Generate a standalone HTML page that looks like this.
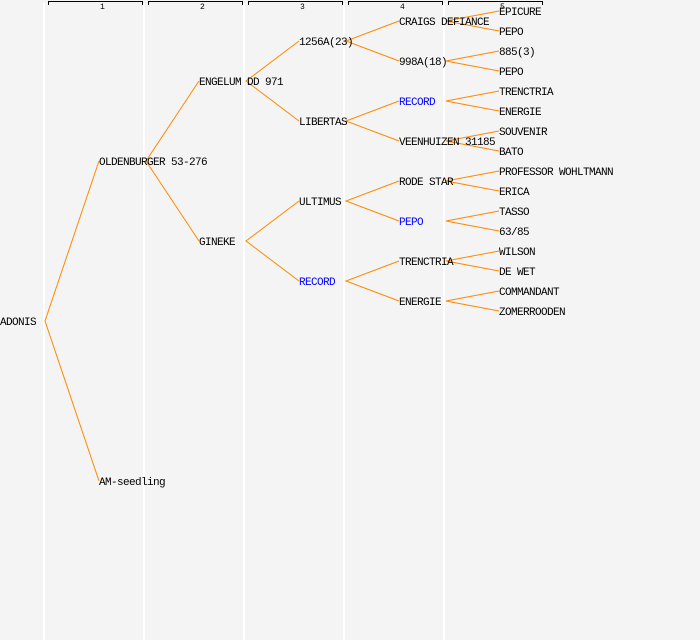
<!DOCTYPE html>
<html><head><meta charset="utf-8"><style>
html,body{margin:0;padding:0;background:#f4f4f4;}
svg{display:block;}
text{font-family:"Liberation Mono","DejaVu Sans Mono",monospace;font-size:11px;letter-spacing:-0.6px;fill:#000;}
.b{fill:#0000ff;}
text.n{font-size:8px;letter-spacing:0;}
</style></head><body>
<svg width="700" height="640" viewBox="0 0 700 640">
<rect width="700" height="640" fill="#f4f4f4"/>
<g stroke="#ffffff" stroke-width="2">
<line x1="44" y1="3" x2="44" y2="640"/><line x1="144" y1="3" x2="144" y2="640"/><line x1="244" y1="3" x2="244" y2="640"/><line x1="344" y1="3" x2="344" y2="640"/><line x1="444" y1="3" x2="444" y2="640"/>
</g>
<g stroke="#000" stroke-width="1" fill="none">
<path d="M48.5,5 V1.5 H142.5 V5"/><path d="M148.5,5 V1.5 H242.5 V5"/><path d="M248.5,5 V1.5 H342.5 V5"/><path d="M348.5,5 V1.5 H442.5 V5"/><path d="M448.5,5 V1.5 H542.5 V5"/>
</g>
<text class="n" x="100" y="9">1</text><text class="n" x="200" y="9">2</text><text class="n" x="300" y="9">3</text><text class="n" x="400" y="9">4</text><text class="n" x="500" y="9">5</text>
<g stroke="#ff8800" stroke-width="1" fill="none">
<path d="M99,161 L45,321 L99,481"/>
<path d="M199,81 L146,161 L199,241"/>
<path d="M299,41 L246,81 L299,121"/>
<path d="M299,201 L246,241 L299,281"/>
<path d="M399,21 L346,41 L399,61"/>
<path d="M399,101 L346,121 L399,141"/>
<path d="M399,181 L346,201 L399,221"/>
<path d="M399,261 L346,281 L399,301"/>
<path d="M499,11 L446,21 L499,31"/>
<path d="M499,51 L446,61 L499,71"/>
<path d="M499,91 L446,101 L499,111"/>
<path d="M499,131 L446,141 L499,151"/>
<path d="M499,171 L446,181 L499,191"/>
<path d="M499,211 L446,221 L499,231"/>
<path d="M499,251 L446,261 L499,271"/>
<path d="M499,291 L446,301 L499,311"/>
</g>
<text x="0" y="325">ADONIS</text>
<text x="99" y="165">OLDENBURGER 53-276</text>
<text x="99" y="485">AM-seedling</text>
<text x="199" y="85">ENGELUM DD 971</text>
<text x="199" y="245">GINEKE</text>
<text x="299" y="45">1256A(23)</text>
<text x="299" y="125">LIBERTAS</text>
<text x="299" y="205">ULTIMUS</text>
<text x="299" y="285" class="b">RECORD</text>
<text x="399" y="25">CRAIGS DEFIANCE</text>
<text x="399" y="65">998A(18)</text>
<text x="399" y="105" class="b">RECORD</text>
<text x="399" y="145">VEENHUIZEN 31185</text>
<text x="399" y="185">RODE STAR</text>
<text x="399" y="225" class="b">PEPO</text>
<text x="399" y="265">TRENCTRIA</text>
<text x="399" y="305">ENERGIE</text>
<text x="499" y="15">EPICURE</text>
<text x="499" y="35">PEPO</text>
<text x="499" y="55">885(3)</text>
<text x="499" y="75">PEPO</text>
<text x="499" y="95">TRENCTRIA</text>
<text x="499" y="115">ENERGIE</text>
<text x="499" y="135">SOUVENIR</text>
<text x="499" y="155">BATO</text>
<text x="499" y="175">PROFESSOR WOHLTMANN</text>
<text x="499" y="195">ERICA</text>
<text x="499" y="215">TASSO</text>
<text x="499" y="235">63/85</text>
<text x="499" y="255">WILSON</text>
<text x="499" y="275">DE WET</text>
<text x="499" y="295">COMMANDANT</text>
<text x="499" y="315">ZOMERROODEN</text>
</svg>
</body></html>
